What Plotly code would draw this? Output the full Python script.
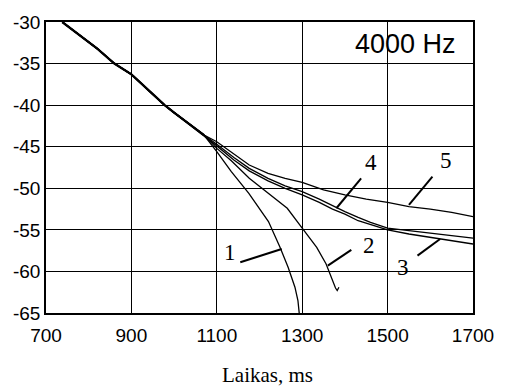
import plotly.graph_objects as go

# ---- data ----
common_x = [738, 780, 820, 860, 900, 940, 978, 1000, 1040, 1070]
common_y = [-30.0, -31.6, -33.2, -35.0, -36.3, -38.2, -40.0, -40.9, -42.5, -43.6]

c5_x = [1100, 1140, 1176, 1220, 1260, 1300, 1350, 1400, 1450, 1500, 1550, 1600, 1650, 1700]
c5_y = [-44.4, -45.9, -47.2, -48.2, -48.8, -49.3, -50.2, -50.8, -51.3, -51.7, -52.2, -52.5, -52.9, -53.4]

c4_x = [1100, 1140, 1176, 1220, 1260, 1300, 1340, 1371, 1400, 1431, 1460, 1500, 1550, 1600, 1650, 1700]
c4_y = [-44.7, -46.3, -47.6, -48.8, -49.7, -50.4, -51.3, -52.1, -52.8, -53.5, -54.1, -54.8, -55.1, -55.4, -55.7, -56.0]

c3_x = [1100, 1140, 1176, 1220, 1260, 1300, 1340, 1371, 1400, 1431, 1460, 1500, 1550, 1600, 1650, 1700]
c3_y = [-44.9, -46.6, -47.9, -49.1, -50.0, -50.8, -51.7, -52.5, -53.1, -53.9, -54.4, -55.0, -55.5, -55.9, -56.3, -56.7]

c2_x = [1100, 1134, 1176, 1216, 1265, 1300, 1334, 1356, 1371, 1378, 1382, 1386]
c2_y = [-45.2, -46.7, -48.8, -50.4, -52.4, -54.8, -57.1, -59.1, -61.1, -62.0, -62.3, -61.9]

c1_x = [1100, 1134, 1175, 1221, 1248, 1267, 1283, 1290, 1293]
c1_y = [-45.6, -48.0, -50.6, -54.0, -57.1, -59.5, -61.9, -63.5, -65.0]

x_ticks = [700, 900, 1100, 1300, 1500, 1700]
y_ticks = [-65, -60, -55, -50, -45, -40, -35, -30]

curve_names = ["1", "2", "3", "4", "5"]
label_x = [1132, 1457, 1535, 1461, 1636]
label_y = [-57.7, -56.9, -59.5, -46.9, -46.7]
leader_x0 = [1155, 1415, 1570, 1438, 1605]
leader_y0 = [-58.9, -57.4, -58.1, -48.8, -48.6]
leader_x1 = [1252, 1360, 1623, 1380, 1550]
leader_y1 = [-57.3, -59.3, -56.1, -52.4, -52.0]

curves = [(c1_x, c1_y), (c2_x, c2_y), (c3_x, c3_y), (c4_x, c4_y), (c5_x, c5_y)]

fig = go.Figure()
for name, (cx, cy) in zip(curve_names, curves):
    fig.add_trace(go.Scatter(
        x=common_x + cx, y=common_y + cy, mode="lines", name=name,
        line=dict(color="black", width=1.3), showlegend=False,
    ))
# overlapping bundle of all curves looks thicker
fig.add_trace(go.Scatter(x=common_x, y=common_y, mode="lines", showlegend=False,
                         line=dict(color="black", width=2.3)))

for i, n in enumerate(curve_names):
    fig.add_annotation(x=label_x[i], y=label_y[i], text=n, showarrow=False,
                       font=dict(family="Liberation Serif", size=23, color="black"))
    fig.add_shape(type="line", x0=leader_x0[i], y0=leader_y0[i], x1=leader_x1[i], y1=leader_y1[i],
                  line=dict(color="black", width=2))

fig.add_annotation(x=1542, y=-32.6, text="4000 Hz", showarrow=False,
                   font=dict(family="Liberation Sans", size=27, color="black"))

fig.add_annotation(xref="paper", yref="paper", x=0.5, y=0, xshift=8, yshift=-62, yanchor="middle",
                   text="Laikas, ms", showarrow=False,
                   font=dict(family="Liberation Serif", size=21, color="black"))

axis_common = dict(showgrid=True, gridcolor="black", gridwidth=1, zeroline=False,
                   showline=True, linecolor="black", linewidth=1.5, mirror=True,
                   tickfont=dict(family="Liberation Sans", size=19, color="black"))

fig.update_xaxes(range=[700, 1700], tickvals=x_ticks, ticktext=[str(v) for v in x_ticks],
                 ticks="outside", ticklen=4, tickcolor="white", **axis_common)
fig.update_yaxes(range=[-65, -30], tickvals=y_ticks, ticktext=[str(v) for v in y_ticks],
                 ticks="", **axis_common)

fig.update_layout(width=506, height=387, margin=dict(l=46, r=30, t=17, b=74),
                  plot_bgcolor="white", paper_bgcolor="white")

fig.write_html("out.html")
